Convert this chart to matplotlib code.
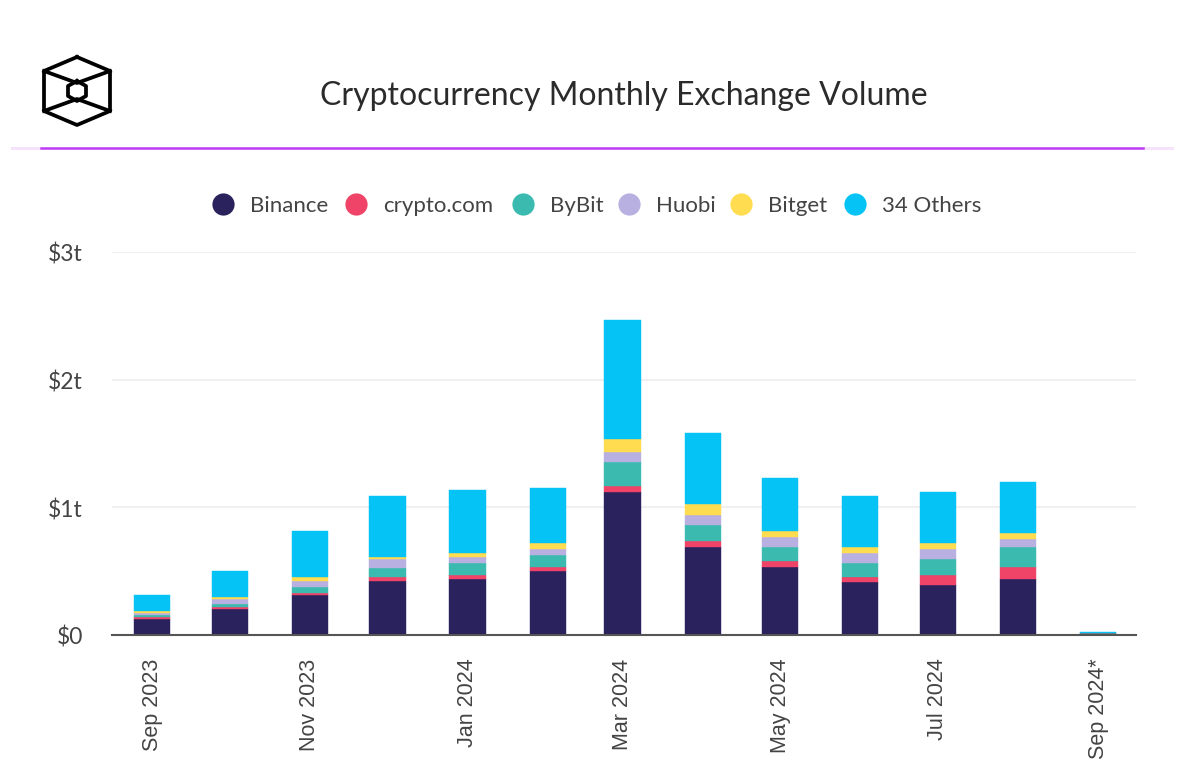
"""Cryptocurrency monthly exchange volume, stacked by exchange."""
import matplotlib
matplotlib.use('Agg')
import matplotlib.dates as mdates
import matplotlib.pyplot as plt
from matplotlib.lines import Line2D
from matplotlib.patches import Rectangle
from matplotlib.transforms import ScaledTranslation
import pandas as pd

plt.rcParams['font.family'] = ['Lato', 'DejaVu Sans']

months = pd.date_range('2023-09-01', '2024-09-01', freq='MS')
tick_months = months[::2]
tick_labels = ['Sep 2023', 'Nov 2023', 'Jan 2024', 'Mar 2024',
               'May 2024', 'Jul 2024', 'Sep 2024*']
y_ticks = [0, 1, 2, 3]
y_labels = ['$0', '$1t', '$2t', '$3t']

# values in $ trillion
binance = [.123, .201, .311, .420, .436, .499, 1.117, .692, .530, .418, .389, .436, .012]
crypto_com = [.016, .016, .016, .031, .034, .034, .050, .047, .050, .034, .078, .094, .001]
bybit = [.018, .029, .047, .076, .091, .094, .188, .125, .110, .110, .125, .159, .001]
huobi = [.013, .034, .047, .068, .050, .050, .081, .078, .078, .081, .081, .065, .001]
bitget = [.016, .018, .034, .018, .034, .047, .097, .081, .050, .050, .050, .047, .001]
others = [.125, .204, .363, .475, .491, .428, .934, .556, .413, .397, .394, .397, .010]

series = [
    ('Binance', binance, '#2a225c'),
    ('crypto.com', crypto_com, '#f04368'),
    ('ByBit', bybit, '#3bbbb0'),
    ('Huobi', huobi, '#b8b0e0'),
    ('Bitget', bitget, '#ffdc50'),
    ('34 Others', others, '#05c3f5'),
]

W, H = 1180, 768
fig = plt.figure(figsize=(W / 100, H / 100), dpi=100, facecolor='white')
ax = fig.add_axes([112 / W, 1 - 635 / H, (1136 - 112) / W, (635 - 252) / H])

x = mdates.date2num(months)
bottom = [0.0] * len(x)
for name, values, color in series:
    ax.bar(x, values, width=14, bottom=bottom, color=color, zorder=3,
           edgecolor=color, linewidth=0.3)
    bottom = [b + v for b, v in zip(bottom, values)]

ax.set_xlim(x[0] - 15.6, x[-1] + 14.7)
ax.set_ylim(0, 3)
ax.set_yticks(y_ticks, y_labels, fontsize=16.5, color='#444444', family='Lato')
ax.set_xticks(mdates.date2num(tick_months), tick_labels, rotation=90,
              fontsize=15.5, color='#444444', family='Liberation Sans')
ax.tick_params(axis='both', length=0)
ax.tick_params(axis='x', pad=17)
ax.tick_params(axis='y', pad=21)
# y labels sit a touch lower than the gridlines in the original
shift = ScaledTranslation(0, -0.5 / 72, fig.dpi_scale_trans)
for label in ax.get_yticklabels():
    label.set_transform(label.get_transform() + shift)
ax.grid(axis='y', color='#f0f0f0', linewidth=1.5, zorder=0)
ax.set_axisbelow(True)
for side in ['top', 'right', 'left']:
    ax.spines[side].set_visible(False)
ax.spines['bottom'].set_color('#555555')
ax.spines['bottom'].set_linewidth(1.5)
ax.spines['bottom'].set_zorder(5)

# header: title, logo and purple rule, placed in pixel coordinates
bg = fig.add_axes([0, 0, 1, 1], zorder=-1)
bg.set_xlim(0, W)
bg.set_ylim(H, 0)
bg.axis('off')
bg.text(624, 96, 'Cryptocurrency Monthly Exchange Volume', ha='center', va='center',
        fontsize=23, color='#2b2b2b')
bg.add_patch(Rectangle((11, 146.5), 1163, 3.5, color='#f5e3fb', lw=0))
bg.add_line(Line2D([41, 1143], [148.2, 148.2], color='#bf3ff5', lw=1.8))

outer = [(77, 57), (110, 71), (110, 111), (77, 125), (44, 111), (44, 71), (77, 57)]
inner = [(77, 81), (86, 86), (86, 96), (77, 101), (68, 96), (68, 86), (77, 81)]
logo_lines = [outer, inner,
              [(44, 71), (77, 83), (110, 71)],
              [(44, 111), (77, 99), (110, 111)]]
for pts in logo_lines:
    bg.plot([p[0] for p in pts], [p[1] for p in pts], color='black', lw=2.7,
            solid_joinstyle='round')

# legend, hand placed so spacing follows the original
legend_x = [223, 356, 523, 629, 741, 855]
for (name, _, color), lx in zip(series, legend_x):
    bg.plot([lx], [203.5], 'o', ms=16, mew=0, color=color)
    bg.text(lx + 27, 206, name, va='center', fontsize=16, color='#444444')

fig.savefig('out.png', dpi=100, facecolor='white')
